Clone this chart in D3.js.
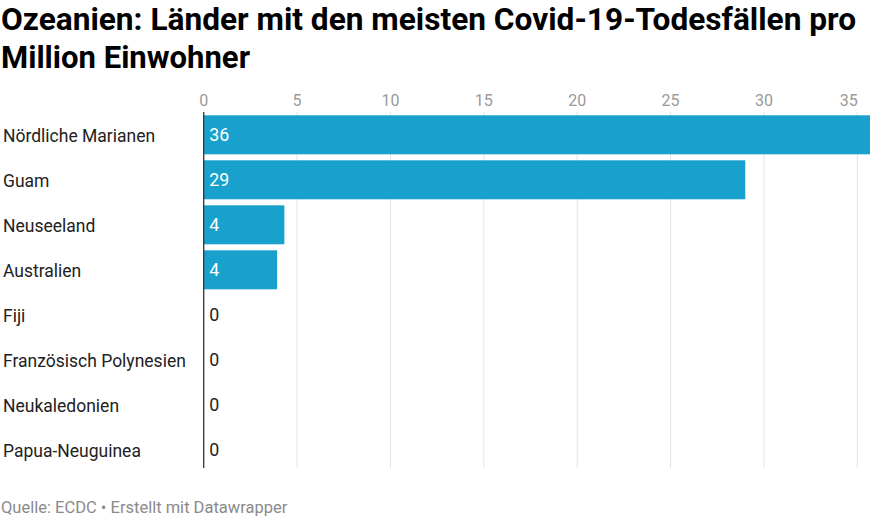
<!DOCTYPE html>
<html><head><meta charset="utf-8">
<script src="https://cdn.jsdelivr.net/npm/d3@7"></script>
<style>
body{margin:0;background:#fff;}
svg{display:block;font-family:Roboto,sans-serif;}
</style></head>
<body>
<svg id="c" width="873" height="524"></svg>
<script>
const categories = ["Nördliche Marianen","Guam","Neuseeland","Australien","Fiji","Französisch Polynesien","Neukaledonien","Papua-Neuguinea"];
const values = [35.7, 29.0, 4.32, 3.93, 0, 0, 0, 0];
const labels = ["36","29","4","4","0","0","0","0"];
const ticks = [0,5,10,15,20,25,30,35];

const svg = d3.select("#c");
const x0 = 203.7, xMax = 870;
const x = d3.scaleLinear().domain([0,35]).range([x0, x0 + 35*18.675]);
const y = d3.scaleBand().domain(categories).range([112.3, 472.3]).paddingInner(6/45).paddingOuter(3/45);

// title
svg.append("text").attr("x",1).attr("y",30).attr("font-size",30.5).attr("font-weight",700)
  .attr("fill","#000").attr("textLength",855).attr("lengthAdjust","spacingAndGlyphs")
  .text("Ozeanien: Länder mit den meisten Covid-19-Todesfällen pro");
svg.append("text").attr("x",1).attr("y",68).attr("font-size",30.5).attr("font-weight",700)
  .attr("fill","#000").attr("textLength",249).attr("lengthAdjust","spacingAndGlyphs")
  .text("Million Einwohner");

// grid
const gTop = 112, gBot = 468;
svg.append("g").selectAll("line").data(ticks.filter(d=>d>0)).join("line")
  .attr("x1",d=>x(d)).attr("x2",d=>x(d)).attr("y1",gTop).attr("y2",gBot)
  .attr("stroke","#e3e3e3").attr("stroke-width",1);

// tick labels
svg.append("g").selectAll("text").data(ticks).join("text")
  .attr("x",d=> d===35 ? x(d)+0.5 : x(d)).attr("y",106)
  .attr("text-anchor",d=> d===35 ? "end" : "middle")
  .attr("font-size",16).attr("fill","#9a9a9a").text(d=>d);

// bars
svg.append("g").selectAll("rect").data(values).join("rect")
  .attr("x",x0).attr("y",(d,i)=>y(categories[i]))
  .attr("width",d=>Math.min(x(d),xMax)-x0).attr("height",y.bandwidth())
  .attr("fill","#18a1cd");

// zero line
svg.append("line").attr("x1",x0).attr("x2",x0).attr("y1",gTop).attr("y2",gBot)
  .attr("stroke","#333").attr("stroke-width",1.3);

// value labels
svg.append("g").selectAll("text").data(values).join("text")
  .attr("x",x0+5.5).attr("y",(d,i)=>y(categories[i])+y.bandwidth()/2+6.5)
  .attr("font-size",17.8).attr("fill",d=> d>0 ? "#fff" : "#222").text((d,i)=>labels[i]);

// category labels
svg.append("g").selectAll("text").data(categories).join("text")
  .attr("x",3).attr("y",d=>y(d)+y.bandwidth()/2+7)
  .attr("font-size",17.5).attr("fill","#222").text(d=>d);

// footer
svg.append("text").attr("x",1).attr("y",513).attr("font-size",16.5).attr("fill","#8a8a8a")
  .text("Quelle: ECDC • Erstellt mit Datawrapper");
</script>
</body></html>
